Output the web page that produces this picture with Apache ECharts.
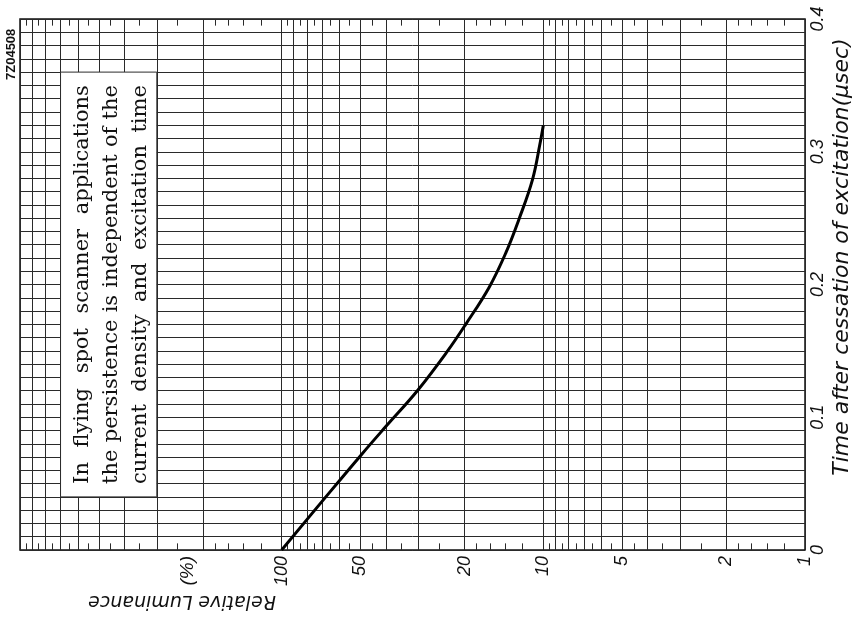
<!DOCTYPE html>
<html>
<head>
<meta charset="utf-8">
<script src="https://cdn.jsdelivr.net/npm/echarts@6/dist/echarts.min.js"></script>
<style>
  html, body { margin: 0; padding: 0; background: #fff; }
  #chart { width: 862px; height: 620px; }
</style>
</head>
<body>
<div id="chart"></div>
<script>
// Decay of a flying-spot phosphor: relative luminance (%) vs time after excitation stops (µs)
const timeUs = [0, 0.040, 0.072, 0.093, 0.120, 0.149, 0.170, 0.198, 0.224, 0.249, 0.279, 0.306, 0.320];
const luminancePct = [100, 67.8, 49.5, 40, 30.3, 23.4, 19.8, 16.1, 13.9, 12.4, 11.0, 10.3, 10.0];

// Luminance scale (log paper): labelled values, ruled lines, short edge ticks
const lumLabels = [100, 50, 20, 10, 5, 2, 1];
const lumRules = [1, 2, 3, 4, 5, 6, 7, 8, 9, 10, 20, 30, 40, 50, 60, 70, 80, 90,
                  100, 200, 300, 400, 500, 600, 700, 800, 900, 1000];
const lumTicks = [1.2, 1.4, 1.6, 1.8, 2.5, 3.5, 4.5, 5.5, 6.5, 7.5, 8.5, 9.5,
                  12, 14, 16, 18, 25, 35, 45, 55, 65, 75, 85, 95,
                  120, 140, 160, 180, 250, 350, 450, 550, 650, 750, 850, 950];
const timeLabels = [0, 0.1, 0.2, 0.3, 0.4];

const noteLines = [
  'In flying spot scanner applications',
  'the persistence is independent of the',
  'current density and excitation time'
];

const lg = Math.log10;
const T_MAX = 0.4;
const TICK_LEN = 0.005;
const INK = '#111';
const RULE = '#2a2a2a';
const LABEL_FONT = 'Liberation Sans';
const NOTE_FONT = '21px "DejaVu Serif"';

const curve = timeUs.map((t, i) => [lg(luminancePct[i]), t]);
const rules = lumRules.map(v => ({ coords: [[lg(v), 0], [lg(v), T_MAX]] }));
const edgeTicks = [];
lumTicks.forEach(v => {
  edgeTicks.push({ coords: [[lg(v), 0], [lg(v), TICK_LEN]] });
  edgeTicks.push({ coords: [[lg(v), T_MAX - TICK_LEN], [lg(v), T_MAX]] });
});

const chart = echarts.init(document.getElementById('chart'), null, { renderer: 'canvas' });

const option = {
  backgroundColor: '#fff',
  animation: false,
  textStyle: { fontFamily: LABEL_FONT },
  grid: {
    left: 20, right: 57, top: 19, bottom: 70,
    show: true, borderColor: INK, borderWidth: 1.5, backgroundColor: '#fff'
  },
  xAxis: {
    type: 'value',
    min: 0, max: 3,
    inverse: true,
    position: 'bottom',
    axisLine: { show: false },
    axisTick: { show: false },
    splitLine: { show: false },
    axisLabel: {
      customValues: lumLabels.map(lg),
      formatter: v => String(Math.round(Math.pow(10, v))),
      rotate: 90,
      margin: 6,
      fontSize: 18,
      fontStyle: 'italic',
      color: INK
    }
  },
  yAxis: {
    type: 'value',
    min: 0, max: T_MAX,
    interval: 0.1,
    position: 'right',
    axisLine: { show: false },
    axisTick: { show: false },
    axisLabel: {
      customValues: timeLabels,
      formatter: v => (v === 0 ? '0' : v.toFixed(1)),
      rotate: 90,
      margin: 4,
      fontSize: 18,
      fontStyle: 'italic',
      color: INK
    },
    splitLine: { show: true, lineStyle: { color: RULE, width: 1 } },
    minorTick: { show: false, splitNumber: 10 },
    minorSplitLine: { show: true, lineStyle: { color: RULE, width: 1 } }
  },
  series: [
    {
      type: 'lines',
      coordinateSystem: 'cartesian2d',
      silent: true,
      z: 1,
      lineStyle: { color: RULE, width: 1, opacity: 1 },
      data: rules
    },
    {
      type: 'lines',
      coordinateSystem: 'cartesian2d',
      silent: true,
      z: 1,
      lineStyle: { color: RULE, width: 1, opacity: 1 },
      data: edgeTicks
    },
    {
      type: 'line',
      data: curve,
      smooth: 0.4,
      symbol: 'none',
      silent: true,
      z: 5,
      lineStyle: { color: '#000', width: 3 }
    }
  ]
};

chart.setOption(option);

// Note box sits on the paper between the 700 and 300 rulings, t = 0.04 … 0.36
const pTop = chart.convertToPixel({ gridIndex: 0 }, [lg(700), 0.36]);
const pBot = chart.convertToPixel({ gridIndex: 0 }, [lg(300), 0.04]);
const boxX = pTop[0], boxY = pTop[1];
const boxW = pBot[0] - pTop[0], boxH = pBot[1] - pTop[1];
const lineOffsets = [22, 51, 80];
const textStart = boxY + boxH - 13;   // lines read upwards from here
const textLength = boxH - 26;          // justified length of every line

// Measure words so each note line is set justified (word spacing stretched)
const measureCtx = document.createElement('canvas').getContext('2d');
measureCtx.font = NOTE_FONT;

const noteWords = [];
noteLines.forEach((line, i) => {
  const words = line.split(' ');
  const widths = words.map(w => measureCtx.measureText(w).width);
  const total = widths.reduce((a, b) => a + b, 0);
  const gap = words.length > 1 ? (textLength - total) / (words.length - 1) : 0;
  let offset = 0;
  words.forEach((w, k) => {
    noteWords.push({
      type: 'text', z: 11,
      x: boxX + lineOffsets[i], y: textStart - offset,
      rotation: Math.PI / 2,
      style: {
        text: w, font: NOTE_FONT, fill: INK,
        align: 'left', verticalAlign: 'middle', textAlign: 'left', textVerticalAlign: 'middle'
      }
    });
    offset += widths[k] + gap;
  });
});

const graphics = [
  {
    type: 'rect', z: 10,
    shape: { x: boxX, y: boxY, width: boxW, height: boxH },
    style: { fill: '#fff', stroke: RULE, lineWidth: 1 }
  }
].concat(noteWords).concat([
  {
    type: 'text', z: 11, x: 842, y: 257, rotation: Math.PI / 2,
    style: {
      text: 'Time after cessation of excitation(μsec)', font: 'italic 22px "DejaVu Sans"', fill: INK,
      align: 'center', verticalAlign: 'middle', textAlign: 'center', textVerticalAlign: 'middle'
    }
  },
  {
    type: 'text', z: 11, x: 188, y: 556, rotation: Math.PI / 2,
    style: {
      text: '(%)', font: 'italic 19px "Liberation Sans"', fill: INK,
      align: 'right', verticalAlign: 'middle', textAlign: 'right', textVerticalAlign: 'middle'
    }
  },
  {
    type: 'text', z: 11, x: 182, y: 601, rotation: Math.PI,
    style: {
      text: 'Relative Luminance', font: 'italic 19px "DejaVu Sans"', fill: INK,
      align: 'center', verticalAlign: 'middle', textAlign: 'center', textVerticalAlign: 'middle'
    }
  },
  {
    type: 'text', z: 11, x: 11, y: 80, rotation: Math.PI / 2,
    style: {
      text: '7Z04508', font: 'bold 13px "Liberation Sans"', fill: INK,
      align: 'left', verticalAlign: 'middle', textAlign: 'left', textVerticalAlign: 'middle'
    }
  }
]);

chart.setOption({ graphic: { elements: graphics } });
</script>
</body>
</html>
